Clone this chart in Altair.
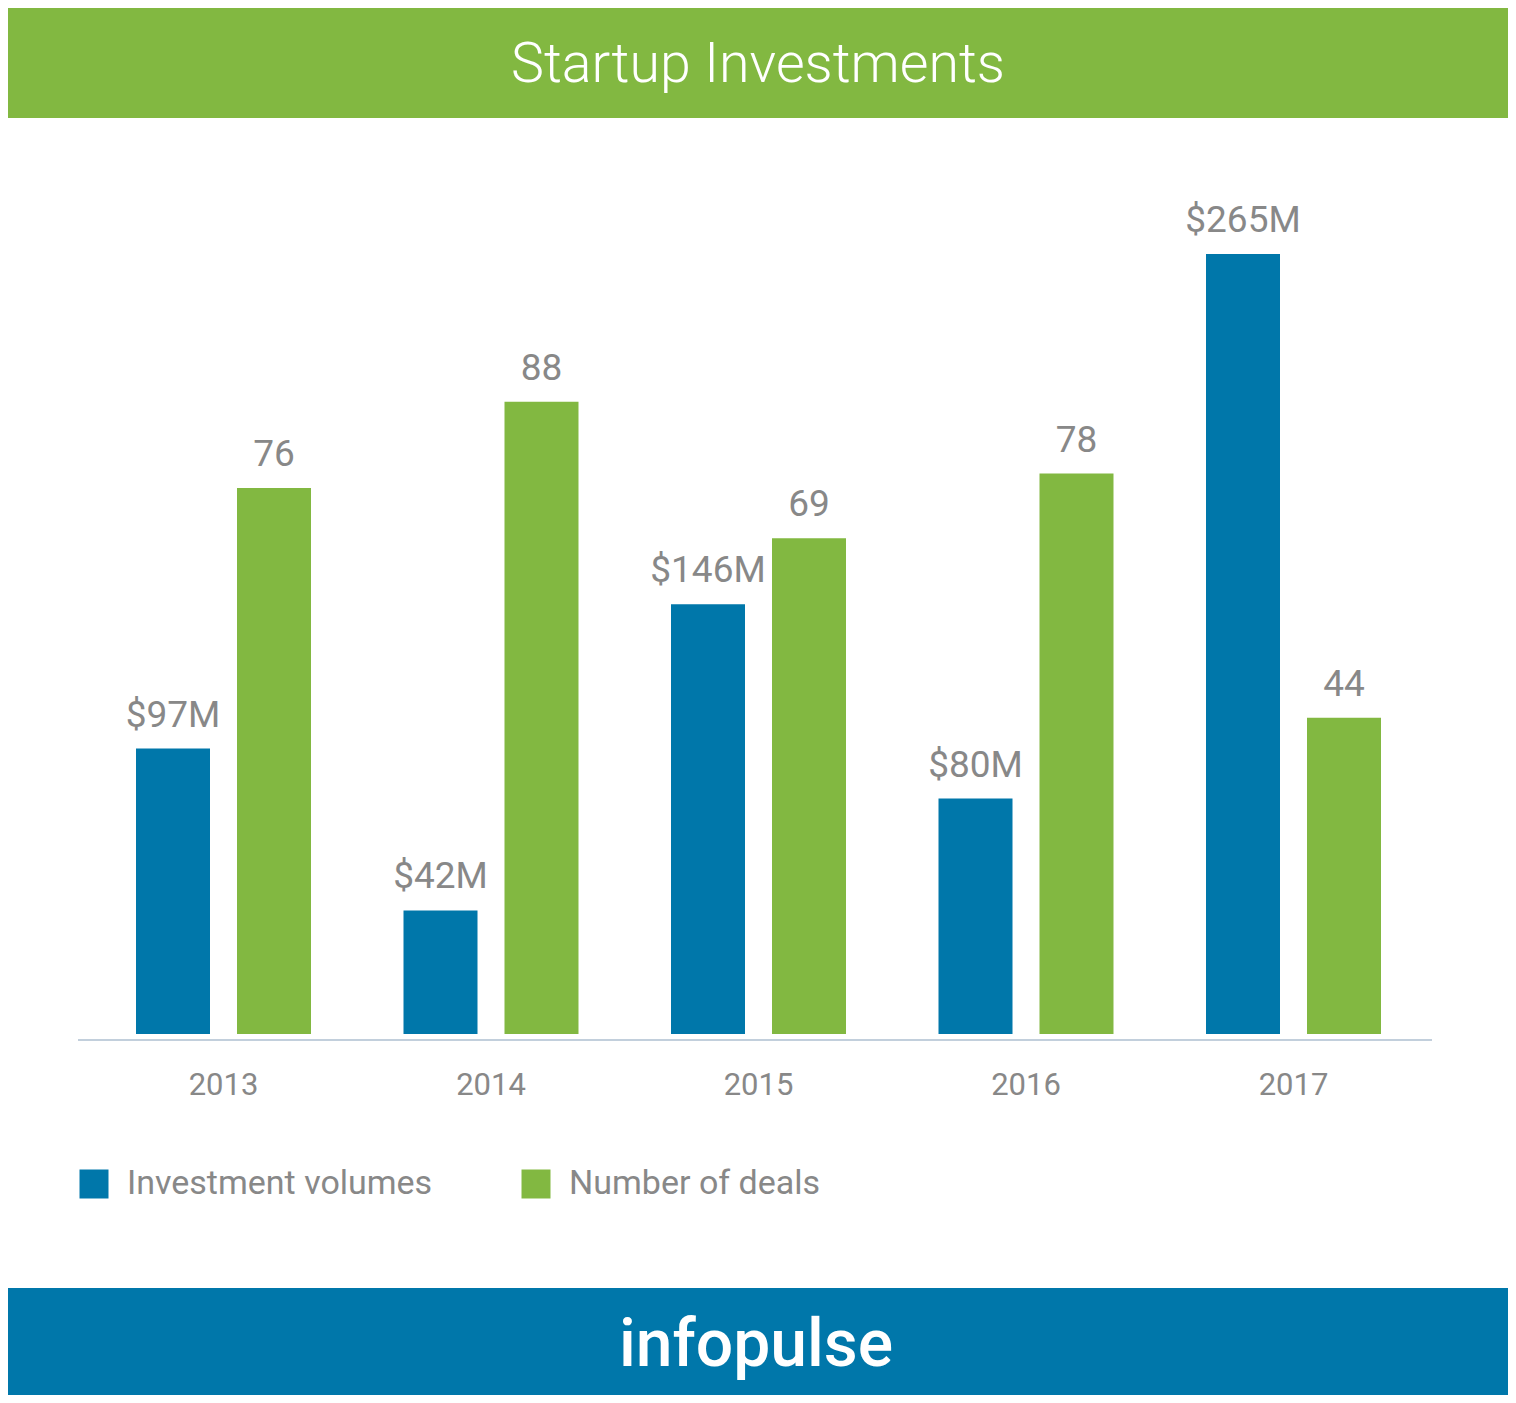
import altair as alt
import pandas as pd

# ---- data ----
years = ["2013", "2014", "2015", "2016", "2017"]
investment_musd = [97, 42, 146, 80, 265]
deal_counts = [76, 88, 69, 78, 44]
series_names = ["Investment volumes", "Number of deals"]
series_colors = ["#0077AA", "#82B841"]
title_text = "Startup Investments"
brand_text = "infopulse"

W, H = 1500, 1387
BASE = 1026
GRAY = "#888888"
FONT = "Roboto"

df = pd.DataFrame({"year": years, "invest": investment_musd, "deals": deal_counts})
one = pd.DataFrame({"k": [0]})

x_enc = alt.X("year:N", sort=years, axis=None,
              scale=alt.Scale(range=[81.75, 1419.25], paddingInner=0.3458, paddingOuter=0.1729))
xo_enc = alt.XOffset("series:N", sort=series_names,
                     scale=alt.Scale(domain=series_names, paddingInner=0.2673, paddingOuter=0))
color_enc = alt.Color(
    "series:N",
    scale=alt.Scale(domain=series_names, range=series_colors),
    legend=alt.Legend(
        title=None, orient="none", legendX=69, legendY=1159, direction="horizontal",
        symbolType="square", symbolSize=841, symbolStrokeWidth=0, symbolOpacity=1,
        labelFontSize=34, labelFont=FONT, labelColor=GRAY, labelOffset=16,
        columnPadding=86, labelLimit=600,
    ),
)

inv_scale = alt.Scale(domain=[0, 300], range=[BASE, BASE - 300 * 2.943])
deal_scale = alt.Scale(domain=[0, 100], range=[BASE, BASE - 100 * 7.185])

base = alt.Chart(df)

inv_bars = base.transform_calculate(series="'Investment volumes'").mark_bar().encode(
    x=x_enc, xOffset=xo_enc, color=color_enc,
    y=alt.Y("invest:Q", scale=inv_scale, axis=None),
)
deal_bars = base.transform_calculate(series="'Number of deals'").mark_bar().encode(
    x=x_enc, xOffset=xo_enc, color=color_enc,
    y=alt.Y("deals:Q", scale=deal_scale, axis=None),
)
inv_text = base.transform_calculate(
    series="'Investment volumes'", lab="'$' + datum.invest + 'M'"
).mark_text(font=FONT, fontSize=37, color=GRAY, baseline="alphabetic", dy=-22).encode(
    x=x_enc, xOffset=xo_enc, text="lab:N",
    y=alt.Y("invest:Q", scale=inv_scale, axis=None),
)
deal_text = base.transform_calculate(series="'Number of deals'").mark_text(
    font=FONT, fontSize=37, color=GRAY, baseline="alphabetic", dy=-22
).encode(
    x=x_enc, xOffset=xo_enc, text="deals:Q",
    y=alt.Y("deals:Q", scale=deal_scale, axis=None),
)
year_text = base.mark_text(font=FONT, fontSize=31, color=GRAY, baseline="alphabetic").encode(
    x=x_enc, text="year:N", y=alt.value(1087),
)

header = alt.Chart(one).mark_rect(color="#82B841").encode(
    x=alt.value(0), x2=alt.value(W), y=alt.value(0), y2=alt.value(110))
footer = alt.Chart(one).mark_rect(color="#0077AA").encode(
    x=alt.value(0), x2=alt.value(W), y=alt.value(1280), y2=alt.value(H))
axis_line = alt.Chart(one).mark_rule(color="#C2CFDC", strokeWidth=2).encode(
    x=alt.value(70), x2=alt.value(1424), y=alt.value(1032))
title = alt.Chart(one).mark_text(
    text=title_text, font=FONT, fontSize=55.5, fontWeight=300, color="white",
    baseline="alphabetic", align="center").encode(x=alt.value(750), y=alt.value(74))
brand = alt.Chart(one).mark_text(
    text=brand_text, font=FONT, fontSize=66, fontWeight=500, color="white",
    baseline="alphabetic", align="center").encode(x=alt.value(748), y=alt.value(1358))

chart = alt.layer(
    header, footer, axis_line, inv_bars, deal_bars, inv_text, deal_text, year_text, title, brand
).resolve_scale(y="independent").properties(
    width=W, height=H, autosize=alt.AutoSizeParams(type="none"), padding=0,
).configure_view(stroke=None)

chart.save("out.html", embed_options={"renderer": "svg", "actions": False})
